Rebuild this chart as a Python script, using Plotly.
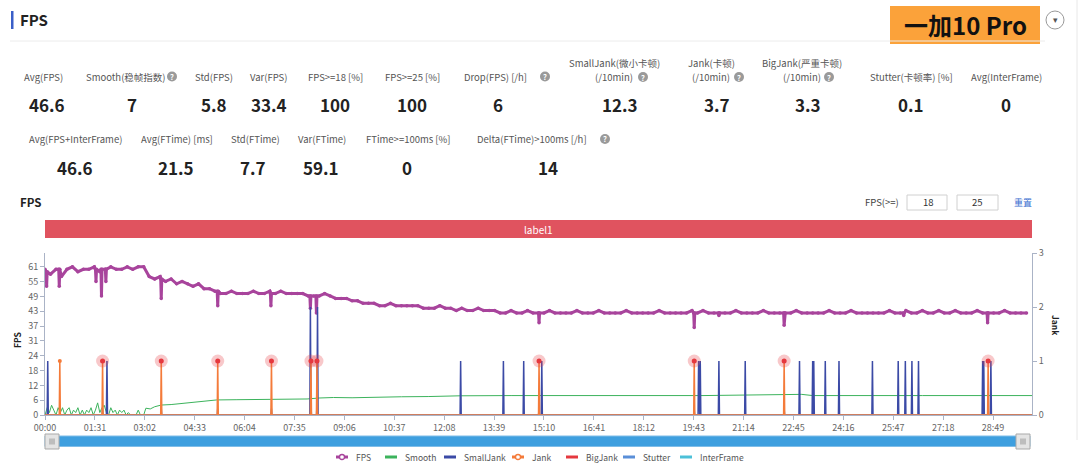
import plotly.graph_objects as go

# ---- stats block ----
stat_labels_1 = ["Avg(FPS)", "Smooth(稳帧指数)", "Std(FPS)", "Var(FPS)", "FPS>=18 [%]", "FPS>=25 [%]",
                 "Drop(FPS) [/h]", "SmallJank(微小卡顿)<br>(/10min)", "Jank(卡顿)<br>(/10min)",
                 "BigJank(严重卡顿)<br>(/10min)", "Stutter(卡顿率) [%]", "Avg(InterFrame)"]
stat_values_1 = ["46.6", "7", "5.8", "33.4", "100", "100", "6", "12.3", "3.7", "3.3", "0.1", "0"]
stat_labels_2 = ["Avg(FPS+InterFrame)", "Avg(FTime) [ms]", "Std(FTime)", "Var(FTime)",
                 "FTime>=100ms [%]", "Delta(FTime)>100ms [/h]"]
stat_values_2 = ["46.6", "21.5", "7.7", "59.1", "0", "14"]

# ---- FPS series (sampled every 10 s) ----
fps_grid = [60, 58, 60, 57, 60, 61, 59, 60, 60, 61, 59, 60, 61, 60, 60, 61, 60, 61, 61,
            57, 56, 57, 55, 56, 54, 55, 54, 53, 54, 52, 52, 51, 50, 50, 51, 50, 50, 50, 51,
            50, 50, 51, 50, 51, 50, 50, 50, 50, 49, 49, 49, 50, 49, 48, 48, 48, 47, 47, 46,
            46, 46, 45, 45, 46, 45, 45, 45, 45, 45, 44, 44, 44, 45, 44, 44, 43, 44, 43, 43,
            44, 43, 43, 43, 42, 42, 43, 42, 42, 43, 42, 42, 42, 43, 42, 42, 42, 42, 43, 42,
            42, 42, 43, 42, 42, 42, 42, 43, 42, 42, 42, 42, 42, 43, 42, 42, 42, 42, 42, 43,
            42, 43, 42, 42, 42, 42, 42, 43, 42, 42, 42, 42, 43, 42, 42, 42, 42, 42, 43, 42,
            42, 42, 42, 42, 43, 42, 42, 42, 43, 42, 42, 42, 42, 42, 42, 43, 42, 42, 43, 42,
            42, 43, 42, 42, 43, 42, 42, 43, 42, 42, 42, 43, 42, 42, 42, 42, 43, 42, 42, 42, 42]
fps_step = 10
# single-second drops: time, value, and the band level read on either side
dip_t = [3, 26, 93, 103, 111, 212, 315, 412, 484, 495, 901, 1184, 1229, 1348, 1566, 1719]
dip_v = [53, 53, 55, 49, 55, 48, 45, 45, 44, 42, 38, 36, 41, 37, 41, 38]
dip_base = [59, 60, 60, 60, 60, 56, 51, 50, 49, 49, 42, 42, 42, 42, 42, 42]

# ---- Smooth series ----
smooth_t = [0, 4, 8, 12, 16, 20, 24, 28, 32, 36, 40, 44, 48, 52, 56, 60, 64, 68, 72, 76, 80,
            84, 88, 92, 96, 100, 104, 108, 112, 116, 120, 124, 128, 132, 136, 140, 144, 148,
            152, 156, 166, 170, 174, 180, 184, 192, 200, 212, 230, 258, 285, 313, 350, 400,
            450, 478, 500, 526, 560, 600, 650, 700, 757, 850, 1000, 1200, 1380, 1400, 1600, 1800]
smooth_v = [0, 3, 1, 4, 2, 0, 3, 1, 3, 0, 2, 3, 0, 2, 1, 3, 0, 2, 0, 2, 1,
            3, 0, 2, 5, 1, 3, 4, 1, 0, 3, 1, 2, 0, 2, 1, 2, 0,
            1, 0, 0, 2, 0, 0, 2.8, 2.5, 3.4, 4.1, 4.3, 5.0, 5.6, 6.2, 6.3, 6.3,
            6.4, 6.6, 7.0, 7.2, 7.1, 7.4, 7.5, 7.6, 7.9, 8.0, 8.0, 8.0, 8.5, 8.0, 8.0, 8.0]

# ---- jank events (seconds) ----
smalljank_t = [5, 113, 484, 497, 758, 836, 873, 906, 1192, 1195, 1229, 1277, 1376, 1400, 1402,
               1423, 1448, 1509, 1556, 1569, 1581, 1593, 1710, 1712, 1725]
smalljank_v = [1, 1, 2, 2, 1, 1, 1, 1, 1, 1, 1, 1, 1, 1, 1,
               1, 1, 1, 1, 1, 1, 1, 1, 1, 1]
jank_t = [27, 105, 212, 315, 413, 485, 496, 901, 1184, 1348, 1720]
jank_v = [1, 1, 1, 1, 1, 1, 1, 1, 1, 1, 1]
bigjank_t = [105, 212, 315, 413, 485, 496, 901, 1184, 1348, 1720]
bigjank_v = [1, 1, 1, 1, 1, 1, 1, 1, 1, 1]
stutter_t = [105, 212, 315, 413, 485, 496, 901, 1184, 1348, 1720]
stutter_v = [0.12, 0.12, 0.12, 0.12, 0.15, 0.15, 0.1, 0.1, 0.1, 0.1]

time_labels = ["00:00", "01:31", "03:02", "04:33", "06:04", "07:35", "09:06", "10:37", "12:08",
               "13:39", "15:10", "16:41", "18:12", "19:43", "21:14", "22:45", "24:16", "25:47",
               "27:18", "28:49"]
fps_ticks = [0, 6.1, 12.2, 18.3, 24.4, 30.5, 36.6, 42.7, 48.8, 54.9, 61]
fps_tick_labels = ["0", "6", "12", "18", "24", "31", "37", "43", "49", "55", "61"]
jank_ticks = [0, 1, 2, 3]
duration = 1800

legend_names = ["FPS", "Smooth", "SmallJank", "Jank", "BigJank", "Stutter", "InterFrame"]
legend_colors = ["#a8449c", "#3cb35c", "#3b4aa6", "#f47b3a", "#e5383f", "#5a8fd8", "#4cc0d8"]

W, H = 1080, 466
FONT = "Noto Sans CJK SC"


def px(x):
    return x / W


def py(y):
    return 1 - y / H


def spikes(times, vals):
    xs, ys = [0], [0]
    for t, v in sorted(zip(times, vals)):
        xs += [t - 1, t, t + 1]
        ys += [0, v, 0]
    xs.append(duration)
    ys.append(0)
    return xs, ys


# merge FPS grid with the single-second drops
pts = [(i * fps_step, v) for i, v in enumerate(fps_grid)]
for t, v, b in zip(dip_t, dip_v, dip_base):
    pts += [(t - 1, b), (t, v), (t + 1, b)]
pts.sort()
fps_t = [p[0] for p in pts]
fps_v = [p[1] for p in pts]

fig = go.Figure()

fig.add_trace(go.Scatter(x=smooth_t, y=smooth_v, mode="lines", name="Smooth",
                         line=dict(color="#3cb35c", width=1), yaxis="y"))
sx, sy = spikes(smalljank_t, smalljank_v)
fig.add_trace(go.Scatter(x=sx, y=sy, mode="lines", name="SmallJank",
                         line=dict(color="#3b4aa6", width=1.5), yaxis="y2"))
sx, sy = spikes(stutter_t, stutter_v)
fig.add_trace(go.Scatter(x=sx, y=sy, mode="lines", name="Stutter",
                         line=dict(color="#5a8fd8", width=1.5), yaxis="y2"))
sx, sy = spikes(jank_t, jank_v)
fig.add_trace(go.Scatter(x=sx, y=sy, mode="lines", name="Jank",
                         line=dict(color="#f47b3a", width=1.5), yaxis="y2"))
fig.add_trace(go.Scatter(x=jank_t, y=jank_v, mode="markers", name="Jank top",
                         marker=dict(color="#f47b3a", size=4), yaxis="y2"))
fig.add_trace(go.Scatter(x=bigjank_t, y=bigjank_v, mode="markers", name="BigJank halo",
                         marker=dict(color="rgba(229,56,63,0.28)", size=13), yaxis="y2"))
fig.add_trace(go.Scatter(x=bigjank_t, y=bigjank_v, mode="markers", name="BigJank",
                         marker=dict(color="#e5383f", size=5), yaxis="y2"))
fig.add_trace(go.Scatter(x=fps_t, y=fps_v, mode="lines+markers", name="FPS",
                         line=dict(color="#a8449c", width=3),
                         marker=dict(color="#a8449c", size=3.5), yaxis="y"))

axis_font = dict(family=FONT, size=9, color="#666")
fig.update_layout(
    width=W, height=H, margin=dict(l=0, r=0, t=0, b=0, pad=0, autoexpand=False),
    paper_bgcolor="white", plot_bgcolor="white", showlegend=False, hovermode=False,
    font=dict(family=FONT),
    xaxis=dict(domain=[px(45), px(1032)], range=[0, duration], automargin=False,
               tickvals=[int(s[:2]) * 60 + int(s[3:]) for s in time_labels],
               ticktext=time_labels, showgrid=False, zeroline=False,
               showline=True, linecolor="#aab3c6", ticks="outside", ticklen=4,
               tickcolor="#aab3c6", tickfont=axis_font),
    yaxis=dict(domain=[py(415), py(253)], range=[0, 66.7], tickvals=fps_ticks,
               ticktext=fps_tick_labels, showgrid=False, zeroline=False, automargin=False,
               showline=True, linecolor="#aab3c6", ticks="outside", ticklen=4,
               tickcolor="#aab3c6", tickfont=axis_font),
    yaxis2=dict(overlaying="y", side="right", range=[0, 3], tickvals=jank_ticks,
                showgrid=False, zeroline=False, showline=True, linecolor="#aab3c6",
                automargin=False, ticks="outside", ticklen=4, tickcolor="#aab3c6",
                tickfont=axis_font),
)

shapes = []
ann = []


def text(x, y, s, size=11, color="#555", bold=False, anchor="center", angle=0, fam=FONT):
    ann.append(dict(x=px(x), y=py(y), xref="paper", yref="paper", showarrow=False,
                    text=f"<b>{s}</b>" if bold else s, xanchor=anchor, yanchor="middle",
                    textangle=angle, font=dict(family=fam, size=size, color=color)))


def rect(x0, y0, x1, y1, fill, line=None, lw=1):
    shapes.append(dict(type="rect", xref="paper", yref="paper", x0=px(x0), x1=px(x1),
                       y0=py(y1), y1=py(y0), fillcolor=fill,
                       line=dict(color=line or fill, width=lw if line else 0), layer="below"))


def qmark(x, y):
    shapes.append(dict(type="circle", xref="paper", yref="paper", x0=px(x - 5), x1=px(x + 5),
                       y0=py(y + 5), y1=py(y - 5), fillcolor="#9a9a9a", line=dict(width=0)))
    text(x, y, "?", size=7.5, color="white", bold=True)


# header
rect(11, 11, 13.5, 29, "#3a5fc8")
text(18, 20, "FPS", size=15, color="#222", bold=True, anchor="left")
shapes.append(dict(type="line", xref="paper", yref="paper", x0=px(10), x1=px(1045),
                   y0=py(41), y1=py(41), line=dict(color="#ececec", width=1)))
shapes.append(dict(type="line", xref="paper", yref="paper", x0=px(1077), x1=px(1077),
                   y0=py(0), y1=py(440), line=dict(color="#e8e8e8", width=1)))
rect(890, 6, 1040, 44, "#fba23a")
text(965, 24, "一加10 Pro", size=24, color="#111", bold=True)
shapes.append(dict(type="circle", xref="paper", yref="paper", x0=px(1046), x1=px(1064),
                   y0=py(29), y1=py(11), line=dict(color="#999", width=1)))
text(1055, 20, "▾", size=9, color="#555")

# stats row 1
lab1_x = [43, 126, 214, 269, 335, 412, 495, 614, 711, 802, 911, 1006]
val1_x = [47, 132, 214, 269, 335, 412, 498, 620, 717, 808, 911, 1006]
for s, lx in zip(stat_labels_1, lab1_x):
    if "<br>" in s:
        top, bot = s.split("<br>")
        text(lx, 63, top, size=9.5)
        text(lx, 77, bot, size=9.5)
    else:
        text(lx, 76.5, s, size=9.5)
for s, vx in zip(stat_values_1, val1_x):
    text(vx, 104, s, size=17, color="#222", bold=True)
for qx, qy in [(172, 76.5), (545, 76.5), (643, 77), (739, 77), (829, 77), (605, 139)]:
    qmark(qx, qy)

# stats row 2
lab2_x = [75, 177, 255, 322, 408, 532]
val2_x = [75, 176, 253, 321, 407, 548]
for s, lx in zip(stat_labels_2, lab2_x):
    text(lx, 139, s, size=9.5)
for s, vx in zip(stat_values_2, val2_x):
    text(vx, 167, s, size=17, color="#222", bold=True)

# chart header
text(18, 202, "FPS", size=11.5, color="#222", bold=True, anchor="left")
text(882, 202, "FPS(>=)", size=9.5, color="#444")
rect(907, 195, 947, 210, "white", "#d0d0d0")
rect(957, 195, 998, 210, "white", "#d0d0d0")
text(928, 202.5, "18", size=9.5, color="#333")
text(977, 202.5, "25", size=9.5, color="#333")
text(1023, 202.5, "重置", size=9, color="#3b6fd0")
rect(45, 220, 1032, 238, "#e0535f")
text(538, 229, "label1", size=10, color="white")

# axis titles
text(17, 340, "FPS", size=8.5, color="#222", bold=True, angle=-90)
text(1056, 325, "Jank", size=8.5, color="#222", bold=True, angle=90)

# data zoom slider
rect(45, 436, 1030, 446.5, "#3e9fdf", "#7fbde8")
for hx in (45, 1016):
    rect(hx, 434, hx + 14, 449, "#e4e4e4", "#a9a9a9")
    rect(hx + 4, 438.5, hx + 10, 444.5, "#bdbdbd")

# legend
leg_icon_x = [342, 391, 450, 518, 572, 629, 686]
for name, col, ix in zip(legend_names, legend_colors, leg_icon_x):
    shapes.append(dict(type="line", xref="paper", yref="paper", x0=px(ix - 6), x1=px(ix + 6),
                       y0=py(457), y1=py(457), line=dict(color=col, width=3)))
    if name in ("FPS", "Jank"):
        shapes.append(dict(type="circle", xref="paper", yref="paper", x0=px(ix - 2.5),
                           x1=px(ix + 2.5), y0=py(459.5), y1=py(454.5), fillcolor="white",
                           line=dict(color=col, width=1.3)))
    text(ix + 12, 457, name, size=8.5, color="#555", anchor="left")

fig.update_layout(shapes=shapes, annotations=ann)
fig.write_html("out.html", config={"displayModeBar": False},
               post_script="document.body.style.margin='0px';document.body.style.overflow='hidden';")
